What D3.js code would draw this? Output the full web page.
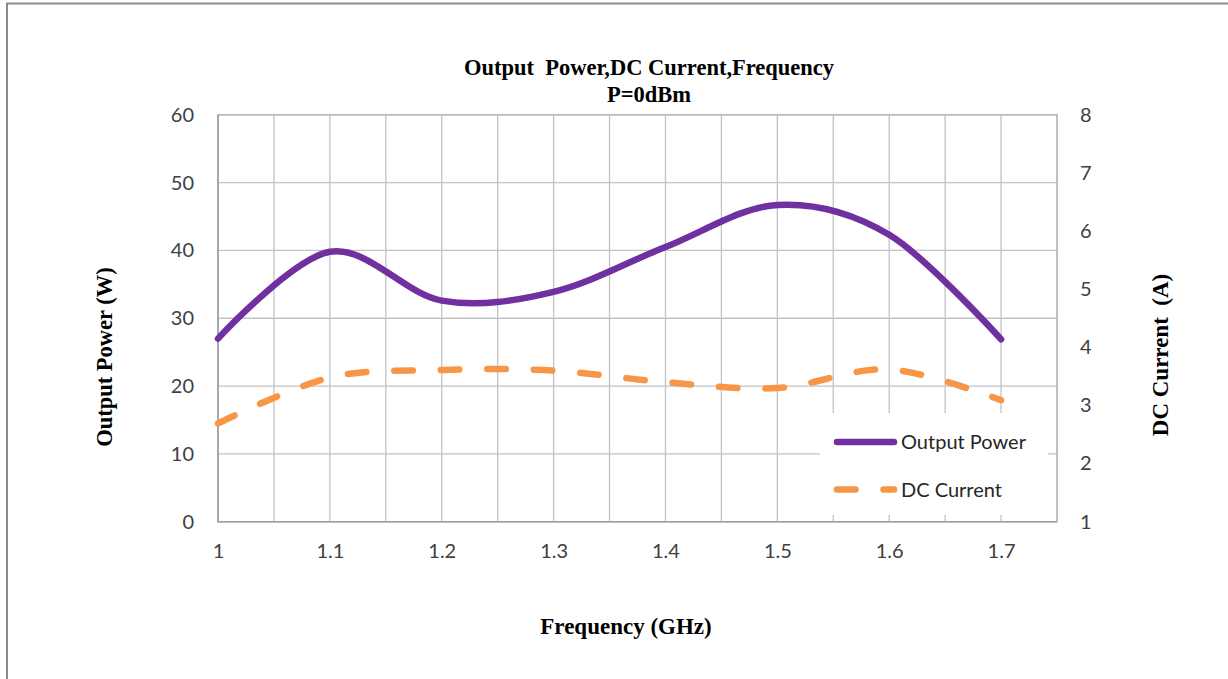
<!DOCTYPE html>
<html>
<head>
<meta charset="utf-8">
<script src="https://cdn.jsdelivr.net/npm/d3@7"></script>
<style>
  html, body { margin: 0; padding: 0; background: #fff; }
  svg { display: block; }
</style>
</head>
<body>
<svg id="chart" width="1228" height="679"></svg>
<script>
// ---- data ----
const frequency   = [1.0, 1.1, 1.2, 1.3, 1.4, 1.5, 1.6, 1.7];           // GHz
const outputPower = [27.0, 39.8, 32.6, 33.9, 40.5, 46.7, 42.3, 26.9];     // W (left axis)
const dcCurrent   = [2.69, 3.48, 3.61, 3.60, 3.40, 3.30, 3.62, 3.09];     // A (right axis)

const xTickValues = [1, 1.1, 1.2, 1.3, 1.4, 1.5, 1.6, 1.7];
const xGridValues = d3.range(0, 16).map(i => +(1 + i * 0.05).toFixed(2));
const leftTicks   = [0, 10, 20, 30, 40, 50, 60];
const rightTicks  = [1, 2, 3, 4, 5, 6, 7, 8];

const titleLines  = ["Output  Power,DC Current,Frequency", "P=0dBm"];
const xTitle      = "Frequency (GHz)";
const yLeftTitle  = "Output Power (W)";
const yRightTitle = "DC Current  (A)";
const seriesNames = ["Output Power", "DC Current"];

// ---- layout ----
const svg = d3.select("#chart");
const plot = { left: 218, right: 1057, top: 114.8, bottom: 521.7 };

const x  = d3.scaleLinear().domain([1, 1.75]).range([plot.left, plot.right]);
const yL = d3.scaleLinear().domain([0, 60]).range([plot.bottom, plot.top]);
const yR = d3.scaleLinear().domain([1, 8]).range([plot.bottom, plot.top]);

const purple = "#7030A0";
const orange = "#F79646";
const gridColor = "#c3c3c3";
const labelColor = "#404040";
const sansFont = "Lato, 'Open Sans', sans-serif";
const serifFont = "'Liberation Serif', 'Times New Roman', serif";

// outer frame
svg.append("path")
  .attr("d", "M7,700 L7,3.5 L1240,3.5")
  .attr("fill", "none").attr("stroke", "#8a8a8a").attr("stroke-width", 2);

// grid
const grid = svg.append("g");
grid.selectAll(".vg").data(xGridValues).join("line")
  .attr("x1", d => x(d)).attr("x2", d => x(d))
  .attr("y1", plot.top).attr("y2", plot.bottom)
  .attr("stroke", gridColor).attr("stroke-width", 1.3);
grid.selectAll(".hg").data(leftTicks).join("line")
  .attr("x1", plot.left).attr("x2", plot.right)
  .attr("y1", d => yL(d)).attr("y2", d => yL(d))
  .attr("stroke", gridColor).attr("stroke-width", 1.3);
// plot border (left and bottom slightly darker)
svg.append("rect")
  .attr("x", plot.left).attr("y", plot.top)
  .attr("width", plot.right - plot.left).attr("height", plot.bottom - plot.top)
  .attr("fill", "none").attr("stroke", "#b5b5b5").attr("stroke-width", 1.3);
svg.append("path")
  .attr("d", `M${plot.left},${plot.top} L${plot.left},${plot.bottom} L${plot.right},${plot.bottom}`)
  .attr("fill", "none").attr("stroke", "#a0a0a0").attr("stroke-width", 1.5);

// axes (labels only)
function styleAxis(g) {
  g.select(".domain").remove();
  g.selectAll(".tick line").remove();
  g.selectAll("text")
    .attr("font-family", sansFont)
    .attr("font-size", 20)
    .attr("fill", labelColor);
}
svg.append("g")
  .attr("transform", `translate(${plot.left - 24},0)`)
  .call(d3.axisLeft(yL).tickValues(leftTicks).tickSize(0).tickPadding(0).tickFormat(d3.format("d")))
  .call(styleAxis);
svg.append("g")
  .attr("transform", `translate(${plot.right + 23},0)`)
  .call(d3.axisRight(yR).tickValues(rightTicks).tickSize(0).tickPadding(0).tickFormat(d3.format("d")))
  .call(styleAxis);
svg.append("g")
  .attr("transform", `translate(0,${plot.bottom + 22})`)
  .call(d3.axisBottom(x).tickValues(xTickValues).tickSize(0).tickPadding(0).tickFormat(d => d3.format("")(d)))
  .call(styleAxis);

// series
const curve = d3.curveCardinal.tension(0);
const powerLine = d3.line()
  .x((d, i) => x(frequency[i]))
  .y(d => yL(d))
  .curve(curve);
const currentLine = d3.line()
  .x((d, i) => x(frequency[i]))
  .y(d => yR(d))
  .curve(curve);

svg.append("path")
  .datum(dcCurrent)
  .attr("d", currentLine)
  .attr("fill", "none").attr("stroke", orange).attr("stroke-width", 6.5)
  .attr("stroke-linecap", "round").attr("stroke-dasharray", "18.5,28");

svg.append("path")
  .datum(outputPower)
  .attr("d", powerLine)
  .attr("fill", "none").attr("stroke", purple).attr("stroke-width", 6.5)
  .attr("stroke-linecap", "round").attr("stroke-linejoin", "round");

// legend
const legend = svg.append("g");
legend.append("rect")
  .attr("x", 820).attr("y", 413).attr("width", 228).attr("height", 102)
  .attr("fill", "#fff");
const legendItems = [
  { name: seriesNames[0], color: purple, dash: null, y: 442 },
  { name: seriesNames[1], color: orange, dash: "18.5,28", y: 489.5 }
];
legendItems.forEach(it => {
  const l = legend.append("line")
    .attr("x1", 837).attr("x2", 894)
    .attr("y1", it.y).attr("y2", it.y)
    .attr("stroke", it.color).attr("stroke-width", 6.5)
    .attr("stroke-linecap", "round");
  if (it.dash) l.attr("stroke-dasharray", it.dash);
  legend.append("text")
    .attr("x", 901).attr("y", it.y)
    .attr("dy", "0.35em")
    .attr("font-family", sansFont).attr("font-size", 20)
    .attr("fill", "#262626")
    .text(it.name);
});

// titles
const titleSize = 22.5;
svg.append("text")
  .attr("x", 649).attr("y", 75)
  .attr("text-anchor", "middle")
  .attr("font-family", serifFont).attr("font-weight", "bold").attr("font-size", titleSize)
  .attr("fill", "#000").style("white-space", "pre")
  .text(titleLines[0]);
svg.append("text")
  .attr("x", 649).attr("y", 102)
  .attr("text-anchor", "middle")
  .attr("font-family", serifFont).attr("font-weight", "bold").attr("font-size", titleSize)
  .attr("fill", "#000")
  .text(titleLines[1]);

svg.append("text")
  .attr("x", 626).attr("y", 634)
  .attr("text-anchor", "middle")
  .attr("font-family", serifFont).attr("font-weight", "bold").attr("font-size", 23)
  .attr("fill", "#000")
  .text(xTitle);

svg.append("text")
  .attr("transform", "translate(112,357) rotate(-90)")
  .attr("text-anchor", "middle")
  .attr("font-family", serifFont).attr("font-weight", "bold").attr("font-size", 22.5)
  .attr("fill", "#000").style("white-space", "pre")
  .text(yLeftTitle);

svg.append("text")
  .attr("transform", "translate(1168,355) rotate(-90)")
  .attr("text-anchor", "middle")
  .attr("font-family", serifFont).attr("font-weight", "bold").attr("font-size", 23)
  .attr("fill", "#000").style("white-space", "pre")
  .text(yRightTitle);
</script>
</body>
</html>
